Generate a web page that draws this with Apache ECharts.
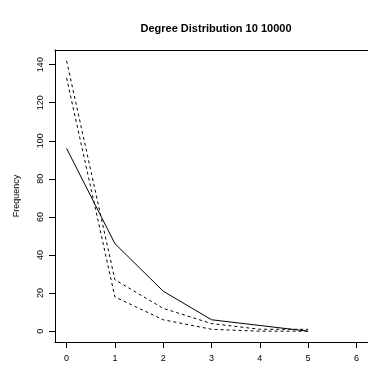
<!DOCTYPE html>
<html>
<head>
<meta charset="utf-8">
<script src="https://cdn.jsdelivr.net/npm/echarts@6/dist/echarts.min.js"></script>
<style>html,body{margin:0;padding:0;background:#fff}#c{width:368px;height:378px}</style>
</head>
<body>
<div id="c"></div>
<script>
const degrees = [0, 1, 2, 3, 4, 5];
const seriesSolid = [96, 46, 21, 6, 3, 0];
const seriesDashA = [142, 27, 12, 4, 1, 1];
const seriesDashB = [133, 18, 6, 1, 0, 0];
const xTicks = [0, 1, 2, 3, 4, 5, 6];
const yTicks = [0, 20, 40, 60, 80, 100, 120, 140];
const titleText = 'Degree Distribution 10 10000';
const yName = 'Frequency';

const font = 'Liberation Sans, Arial, Helvetica, sans-serif';
const pairs = arr => degrees.map((d, i) => [d, arr[i]]);
const axisLine = {show: true, onZero: false, lineStyle: {color: '#000', width: 1}};
const chart = echarts.init(document.getElementById('c'), null, {renderer: 'canvas'});
chart.setOption({
  animation: false,
  backgroundColor: '#fff',
  title: {
    text: titleText, left: 211, top: 18, textAlign: 'center',
    textStyle: {fontFamily: font, fontSize: 11, fontWeight: 'bold', color: '#000'}
  },
  grid: {left: 55, top: 50, width: 320, height: 292},
  xAxis: [{
    type: 'value', min: -0.24, max: 6.24, position: 'bottom',
    splitLine: {show: false},
    axisLine: axisLine,
    axisTick: {show: true, inside: false, length: 6, customValues: xTicks, lineStyle: {color: '#000', width: 1}},
    axisLabel: {customValues: xTicks, margin: 12, fontFamily: font, fontSize: 9, color: '#000'}
  }, {
    type: 'value', min: -0.24, max: 6.24, position: 'top',
    splitLine: {show: false}, axisLine: axisLine,
    axisTick: {show: false}, axisLabel: {show: false}
  }],
  yAxis: {
    type: 'value', min: -5.68, max: 147.68, position: 'left',
    name: yName, nameLocation: 'middle', nameRotate: 90, nameGap: 34,
    nameTextStyle: {fontFamily: font, fontSize: 9, color: '#000'},
    splitLine: {show: false},
    axisLine: axisLine,
    axisTick: {show: true, inside: false, length: 6, customValues: yTicks, lineStyle: {color: '#000', width: 1}},
    axisLabel: {customValues: yTicks, rotate: 90, margin: 10, fontFamily: font, fontSize: 9, color: '#000'}
  },
  series: [
    {type: 'line', data: pairs(seriesSolid), symbol: 'none', lineStyle: {color: '#000', width: 1, type: 'solid'}},
    {type: 'line', data: pairs(seriesDashA), symbol: 'none', lineStyle: {color: '#000', width: 1, type: [3, 3]}},
    {type: 'line', data: pairs(seriesDashB), symbol: 'none', lineStyle: {color: '#000', width: 1, type: [3, 3]}}
  ]
});
</script>
</body>
</html>
